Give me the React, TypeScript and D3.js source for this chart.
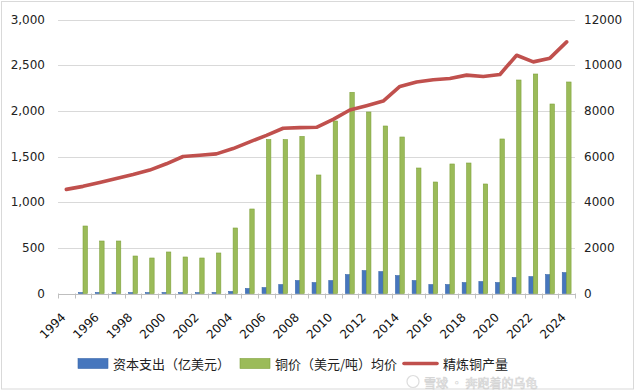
import React from "react";
import * as d3 from "d3";

const years = d3.range(1994, 2025).map(String);
const capex: (number | null)[] = [null, 10, 11, 11, 10, 10, 11, 10, 10, 11, 22, 55, 65, 98, 142, 120, 142, 207, 251, 240, 196, 142, 98, 98, 120, 131, 120, 175, 185, 207, 229];
const copperPrice: (number | null)[] = [null, 2956, 2299, 2299, 1642, 1555, 1818, 1599, 1555, 1774, 2869, 3701, 6740, 6740, 6880, 5190, 7555, 8812, 7949, 7336, 6854, 5496, 4883, 5672, 5715, 4796, 6767, 9350, 9613, 8299, 9263];
const production: number[] = [1140, 1173, 1216, 1260, 1303, 1351, 1420, 1500, 1514, 1529, 1587, 1660, 1732, 1809, 1816, 1820, 1907, 2009, 2056, 2107, 2267, 2315, 2340, 2354, 2391, 2376, 2398, 2609, 2536, 2577, 2755];
const leftTicks = [0, 500, 1000, 1500, 2000, 2500, 3000];
const rightTicks = [0, 2000, 4000, 6000, 8000, 10000, 12000];
const labelYears = years.filter((_, i) => i % 2 === 0);
const legendLabels = ["资本支出（亿美元）", "铜价（美元/吨）均价", "精炼铜产量"];

const W = 636, H = 391;
const plot = { left: 58, right: 575, top: 19.5, bottom: 293.5 };

export default function App() {
  const x = d3.scaleBand<string>().domain(years).range([plot.left, plot.right]).padding(0);
  const yL = d3.scaleLinear().domain([0, 3000]).range([plot.bottom, plot.top]);
  const yR = d3.scaleLinear().domain([0, 12000]).range([plot.bottom, plot.top]);
  const bw = x.bandwidth() * 0.265;
  const cx = (y: string) => (x(y) as number) + x.bandwidth() / 2;
  const line = d3.line<number>().x((_, i) => cx(years[i])).y((d) => yL(d));
  const fmt = d3.format(",");
  const font = "'DejaVu Sans', Verdana, sans-serif";
  const cjk = "'Noto Sans CJK SC', sans-serif";
  const ly = 363.5;

  return (
    <svg width={W} height={H} style={{ position: "absolute", left: 0, top: 0, background: "#fff" }}>
      <rect x={1.5} y={1.5} width={632} height={387.5} fill="#fff" stroke="#d9d9d9" />
      {leftTicks.map((t) => (
        <line key={"g" + t} x1={plot.left} x2={plot.right} y1={Math.round(yL(t)) + 0.5} y2={Math.round(yL(t)) + 0.5} stroke={t === 0 ? "#bfbfbf" : "#d9d9d9"} />
      ))}
      {leftTicks.map((t) => (
        <text key={"l" + t} x={45} y={yL(t)} textAnchor="end" dominantBaseline="central" fontFamily={font} fontSize={12} fill="#222">{fmt(t)}</text>
      ))}
      {rightTicks.map((t) => (
        <text key={"r" + t} x={584} y={yR(t)} textAnchor="start" dominantBaseline="central" fontFamily={font} fontSize={12} fill="#222">{String(t)}</text>
      ))}
      {years.concat(["end"]).map((y, i) => {
        const xx = Math.round(plot.left + i * x.bandwidth()) + 0.5;
        return <line key={"t" + i} x1={xx} x2={xx} y1={plot.bottom} y2={plot.bottom + 5} stroke="#bfbfbf" />;
      })}
      {years.map((y, i) =>
        capex[i] == null ? null : (
          <rect key={"b" + y} x={cx(y) - bw} y={yL(capex[i] as number)} width={bw} height={plot.bottom - yL(capex[i] as number)} fill="#4676bd" stroke="#3a68aa" strokeWidth={0.6} />
        )
      )}
      {years.map((y, i) =>
        copperPrice[i] == null ? null : (
          <rect key={"c" + y} x={cx(y)} y={yR(copperPrice[i] as number)} width={bw} height={plot.bottom - yR(copperPrice[i] as number)} fill="#9bbb59" stroke="#7fa23c" strokeWidth={0.6} />
        )
      )}
      <path d={line(production) || ""} fill="none" stroke="#c0504d" strokeWidth={3.6} strokeLinejoin="round" strokeLinecap="round" />
      {labelYears.map((y) => (
        <text key={"y" + y} transform={`translate(${cx(y)},318) rotate(-45)`} textAnchor="end" fontFamily={font} fontSize={12} fill="#111">{y}</text>
      ))}
      <g>
        <rect x={78} y={ly - 5} width={30} height={10} fill="#4676bd" stroke="#3a68aa" strokeWidth={0.6} />
        <text x={113} y={ly} dominantBaseline="central" fontFamily={cjk} fontSize={13} fill="#222">{legendLabels[0]}</text>
        <rect x={240} y={ly - 5} width={30} height={10} fill="#9bbb59" stroke="#7fa23c" strokeWidth={0.6} />
        <text x={275} y={ly} dominantBaseline="central" fontFamily={cjk} fontSize={13} fill="#222">{legendLabels[1]}</text>
        <line x1={404} x2={437} y1={ly} y2={ly} stroke="#c0504d" strokeWidth={3.6} strokeLinecap="round" />
        <text x={443} y={ly} dominantBaseline="central" fontFamily={cjk} fontSize={13} fill="#222">{legendLabels[2]}</text>
      </g>
      <g opacity={0.7}>
        <circle cx={413} cy={381.5} r={6} fill="none" stroke="#cfcfcf" strokeWidth={1.2} />
        <text x={424} y={382} dominantBaseline="central" fontFamily={cjk} fontSize={12} fill="#ffffff" stroke="#c4c4c4" strokeWidth={0.7}>雪球 · 奔跑着的乌龟</text>
      </g>
    </svg>
  );
}
